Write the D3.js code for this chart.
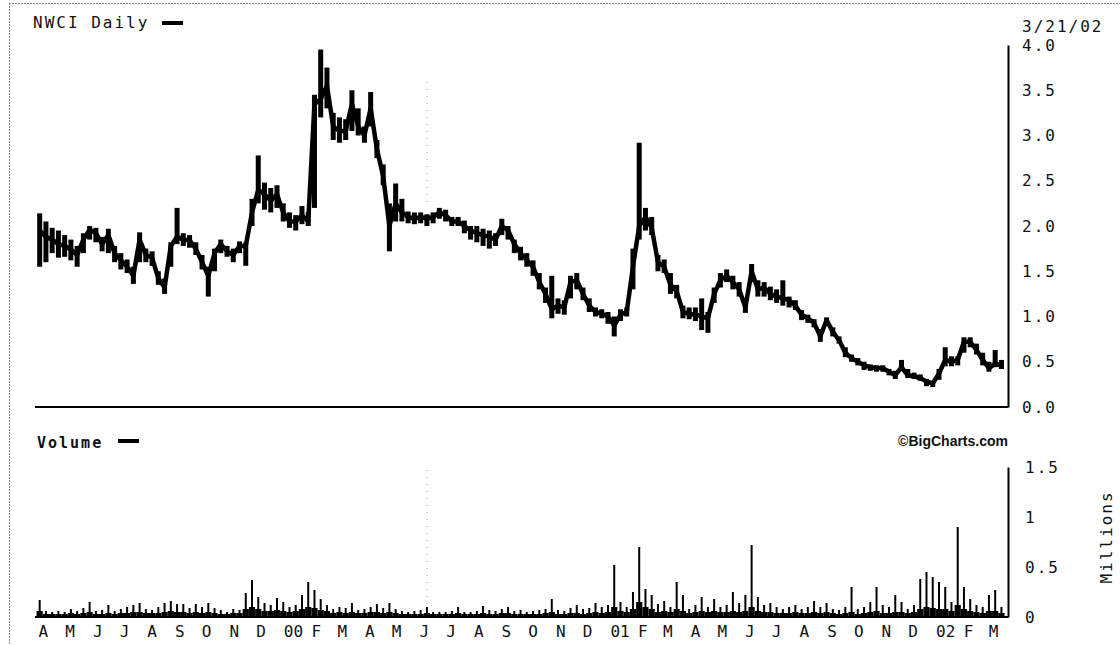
<!DOCTYPE html>
<html>
<head>
<meta charset="utf-8">
<script src="https://cdn.jsdelivr.net/npm/d3@7"></script>
<style>
body { margin: 0; background: #fff; }
svg text { font-family: "DejaVu Sans Mono", monospace; fill: #111; }
</style>
</head>
<body>
<script>
// weekly bars, first week starting on this date
const firstWeek = "1999-04-01";
const lastDay = "2002-03-21";

const closes = [1.95,1.88,1.85,1.80,1.78,1.74,1.68,1.85,1.96,1.92,
  1.80,1.90,1.70,1.62,1.55,1.45,1.85,1.68,1.65,1.42,
  1.32,1.78,1.88,1.85,1.84,1.75,1.60,1.45,1.70,1.80,
  1.72,1.68,1.78,1.78,2.15,2.40,2.35,2.28,2.35,2.15,
  2.05,2.05,2.12,2.05,3.35,3.40,3.55,3.10,3.05,3.05,
  3.35,3.10,3.00,3.30,2.85,2.55,2.00,2.25,2.15,2.10,
  2.08,2.10,2.08,2.10,2.15,2.12,2.05,2.05,2.00,1.95,
  1.92,1.90,1.88,1.85,2.00,1.95,1.80,1.70,1.62,1.55,
  1.38,1.25,1.08,1.12,1.10,1.38,1.40,1.25,1.12,1.05,
  1.03,1.00,0.90,1.02,1.05,1.55,2.00,2.10,1.98,1.60,
  1.55,1.35,1.28,1.05,1.03,1.02,1.00,0.98,1.25,1.40,
  1.45,1.38,1.30,1.10,1.50,1.30,1.32,1.25,1.22,1.20,
  1.18,1.12,1.02,0.98,0.93,0.78,0.96,0.83,0.74,0.60,
  0.54,0.50,0.46,0.44,0.43,0.43,0.39,0.35,0.44,0.35,
  0.34,0.32,0.28,0.26,0.37,0.52,0.50,0.52,0.72,0.72,
  0.63,0.52,0.43,0.48,0.46];

const highs = [2.14,2.05,1.98,1.95,1.90,1.85,1.78,1.92,2.00,1.98,
  1.88,1.97,1.78,1.70,1.63,1.55,1.93,1.75,1.72,1.50,
  1.42,1.82,2.20,1.92,1.90,1.82,1.68,1.55,1.75,1.85,
  1.78,1.75,1.83,1.82,2.30,2.78,2.48,2.42,2.45,2.25,
  2.15,2.12,2.22,2.15,3.45,3.95,3.75,3.25,3.20,3.18,
  3.50,3.30,3.10,3.48,2.95,2.68,2.25,2.47,2.30,2.16,
  2.15,2.15,2.13,2.15,2.20,2.18,2.10,2.10,2.06,2.00,
  2.00,1.97,1.95,1.92,2.08,2.00,1.85,1.77,1.70,1.62,
  1.48,1.32,1.45,1.20,1.18,1.45,1.48,1.32,1.20,1.10,
  1.08,1.05,1.00,1.08,1.10,1.75,2.92,2.20,2.10,1.68,
  1.63,1.48,1.35,1.12,1.10,1.10,1.20,1.05,1.32,1.48,
  1.52,1.45,1.38,1.15,1.58,1.40,1.38,1.33,1.30,1.40,
  1.22,1.18,1.07,1.02,0.97,0.86,0.99,0.88,0.78,0.66,
  0.58,0.54,0.50,0.47,0.46,0.46,0.42,0.40,0.52,0.42,
  0.38,0.36,0.31,0.29,0.42,0.66,0.56,0.56,0.77,0.77,
  0.70,0.60,0.50,0.63,0.52];

const lows = [1.55,1.60,1.70,1.65,1.66,1.62,1.55,1.70,1.85,1.82,
  1.72,1.70,1.60,1.52,1.48,1.36,1.60,1.60,1.56,1.35,
  1.25,1.55,1.80,1.78,1.76,1.68,1.52,1.22,1.50,1.70,
  1.66,1.60,1.70,1.56,2.00,2.25,2.18,2.15,2.20,2.05,
  1.98,1.95,2.02,2.00,2.20,3.20,3.30,2.95,2.92,2.95,
  3.05,3.00,2.92,3.10,2.75,2.45,1.72,2.05,2.05,2.03,
  2.02,2.03,2.00,2.03,2.08,2.05,2.00,2.00,1.92,1.85,
  1.82,1.78,1.75,1.78,1.90,1.85,1.70,1.62,1.55,1.45,
  1.30,1.15,0.98,1.03,1.02,1.20,1.30,1.18,1.05,1.00,
  0.98,0.92,0.78,0.95,1.00,1.30,1.85,1.95,1.90,1.50,
  1.48,1.25,1.20,0.98,0.97,0.95,0.85,0.82,1.15,1.32,
  1.38,1.30,1.22,1.04,1.38,1.22,1.22,1.18,1.15,1.12,
  1.10,1.07,0.96,0.93,0.88,0.72,0.90,0.78,0.70,0.55,
  0.50,0.46,0.41,0.40,0.39,0.39,0.35,0.31,0.40,0.32,
  0.31,0.29,0.23,0.22,0.30,0.45,0.45,0.46,0.60,0.66,
  0.58,0.46,0.39,0.44,0.42];

// volume in millions: biggest day of the week, and the usual level
const volPeak = [0.17,0.06,0.05,0.06,0.05,0.08,0.06,0.09,0.15,0.06,
  0.07,0.12,0.06,0.08,0.10,0.12,0.14,0.08,0.07,0.10,
  0.14,0.16,0.13,0.13,0.09,0.13,0.10,0.14,0.09,0.07,
  0.05,0.08,0.07,0.24,0.37,0.20,0.14,0.12,0.19,0.15,
  0.10,0.12,0.22,0.35,0.27,0.18,0.12,0.08,0.10,0.09,
  0.14,0.07,0.08,0.10,0.13,0.09,0.14,0.08,0.06,0.05,
  0.06,0.07,0.10,0.05,0.05,0.05,0.06,0.10,0.05,0.05,
  0.06,0.11,0.07,0.06,0.08,0.10,0.06,0.07,0.05,0.06,
  0.07,0.08,0.18,0.07,0.06,0.09,0.12,0.08,0.09,0.14,
  0.10,0.12,0.52,0.15,0.10,0.25,0.70,0.28,0.22,0.13,
  0.16,0.10,0.35,0.22,0.08,0.12,0.20,0.10,0.18,0.10,
  0.12,0.25,0.14,0.22,0.72,0.20,0.12,0.14,0.10,0.08,
  0.10,0.12,0.08,0.10,0.16,0.10,0.14,0.08,0.07,0.10,
  0.30,0.08,0.10,0.15,0.30,0.12,0.10,0.22,0.15,0.08,
  0.12,0.38,0.45,0.40,0.35,0.30,0.15,0.90,0.30,0.18,
  0.12,0.10,0.22,0.27,0.10];

const volBase = [0.06,0.03,0.03,0.03,0.03,0.04,0.03,0.04,0.05,0.03,
  0.03,0.04,0.03,0.04,0.04,0.05,0.05,0.04,0.04,0.04,
  0.05,0.06,0.05,0.05,0.04,0.05,0.04,0.05,0.04,0.03,
  0.03,0.04,0.04,0.08,0.10,0.08,0.06,0.06,0.07,0.06,
  0.05,0.06,0.08,0.10,0.09,0.07,0.06,0.04,0.05,0.04,
  0.05,0.04,0.04,0.05,0.05,0.04,0.05,0.04,0.03,0.03,
  0.03,0.03,0.04,0.03,0.03,0.03,0.03,0.04,0.03,0.03,
  0.03,0.04,0.03,0.03,0.04,0.04,0.03,0.03,0.03,0.03,
  0.03,0.04,0.05,0.03,0.03,0.04,0.04,0.03,0.04,0.05,
  0.04,0.05,0.10,0.06,0.05,0.08,0.15,0.10,0.08,0.05,
  0.06,0.05,0.08,0.06,0.04,0.05,0.06,0.05,0.06,0.05,
  0.05,0.06,0.05,0.06,0.10,0.06,0.05,0.05,0.04,0.04,
  0.04,0.05,0.04,0.04,0.05,0.04,0.05,0.04,0.03,0.04,
  0.05,0.03,0.04,0.05,0.06,0.04,0.04,0.05,0.05,0.04,
  0.05,0.08,0.10,0.09,0.08,0.08,0.06,0.12,0.08,0.06,
  0.05,0.04,0.06,0.06,0.04];

const monthLabels = ["A","M","J","J","A","S","O","N","D","00","F","M",
  "A","M","J","J","A","S","O","N","D","01","F","M",
  "A","M","J","J","A","S","O","N","D","02","F","M"];
const priceTicks = [0, 0.5, 1, 1.5, 2, 2.5, 3, 3.5, 4];
const volTicks = [0, 0.5, 1, 1.5];

const width = 1120, height = 645;
const svg = d3.select("body").append("svg")
    .attr("width", width)
    .attr("height", height);

const parse = d3.timeParse("%Y-%m-%d");
const start = parse(firstWeek);
const weeks = closes.map((c, i) => ({
    date: d3.timeDay.offset(start, 7 * i + 3),
    c: c, h: highs[i], l: lows[i],
    vp: volPeak[i], vb: volBase[i]
}));

//scales
const x = d3.scaleTime().domain([start, parse(lastDay)]).range([37, 1005]);
const y = d3.scaleLinear().domain([0, 4]).range([407, 45]);
const yv = d3.scaleLinear().domain([0, 1.5]).range([617, 467]);

//frame
svg.append("line").attr("x1", 9).attr("x2", width).attr("y1", 3.5).attr("y2", 3.5)
    .attr("stroke", "#888").attr("stroke-dasharray", "2,1");
svg.append("line").attr("x1", 9.5).attr("x2", 9.5).attr("y1", 3).attr("y2", height)
    .attr("stroke", "#888").attr("stroke-dasharray", "2,1");

//faint dotted marker
svg.append("line").attr("x1", 427).attr("x2", 427).attr("y1", 82).attr("y2", 205)
    .attr("stroke", "#999").attr("stroke-dasharray", "1,6");
svg.append("line").attr("x1", 427).attr("x2", 427).attr("y1", 470).attr("y2", 605)
    .attr("stroke", "#999").attr("stroke-dasharray", "1,6");

//price bars
svg.append("g").selectAll("rect")
    .data(weeks)
    .enter()
    .append("rect")
    .attr("x", d => x(d.date) - 2.5)
    .attr("y", d => y(d.h))
    .attr("width", 5)
    .attr("height", d => y(d.l) - y(d.h))
    .attr("fill", "#000");

svg.append("path")
    .datum(weeks)
    .attr("fill", "none")
    .attr("stroke", "#000")
    .attr("stroke-width", 4.5)
    .attr("stroke-linejoin", "round")
    .attr("d", d3.line().x(d => x(d.date)).y(d => y(d.c)));

svg.append("line").attr("x1", 35).attr("x2", 1008).attr("y1", y(0)).attr("y2", y(0))
    .attr("stroke", "#000").attr("stroke-width", 2);

//price axis
const yAxis = svg.append("g")
    .attr("transform", "translate(1008,0)")
    .call(d3.axisRight(y).tickValues(priceTicks).tickFormat(d3.format(".1f"))
        .tickSize(0).tickPadding(14));
yAxis.select(".domain").attr("stroke-width", 2);
yAxis.selectAll("text").attr("font-size", 16).attr("letter-spacing", 2)
    .attr("font-family", "DejaVu Sans Mono");

//volume
svg.append("g").selectAll("rect")
    .data(weeks)
    .enter()
    .append("rect")
    .attr("x", d => x(d.date) - 3.1)
    .attr("y", d => yv(d.vb))
    .attr("width", 6.2)
    .attr("height", d => yv(0) - yv(d.vb))
    .attr("fill", "#000");

svg.append("g").selectAll("line")
    .data(weeks)
    .enter()
    .append("line")
    .attr("x1", d => x(d.date))
    .attr("x2", d => x(d.date))
    .attr("y1", yv(0))
    .attr("y2", d => yv(d.vp))
    .attr("stroke", "#000")
    .attr("stroke-width", 2);

svg.append("line").attr("x1", 35).attr("x2", 1008).attr("y1", yv(0)).attr("y2", yv(0))
    .attr("stroke", "#000").attr("stroke-width", 2);

const vAxis = svg.append("g")
    .attr("transform", "translate(1008,0)")
    .call(d3.axisRight(yv).tickValues(volTicks).tickFormat(d => d)
        .tickSize(0).tickPadding(17));
vAxis.select(".domain").attr("stroke-width", 2);
vAxis.selectAll("text").attr("font-size", 16).attr("letter-spacing", 2)
    .attr("font-family", "DejaVu Sans Mono");

//month axis
const months = d3.timeMonth.range(start, parse(lastDay));
const xAxis = svg.append("g")
    .attr("transform", "translate(0,617)")
    .call(d3.axisBottom(x).tickValues(months).tickFormat((d, i) => monthLabels[i])
        .tickSize(0).tickPadding(9));
xAxis.select(".domain").remove();
xAxis.selectAll("text").attr("font-size", 16).attr("text-anchor", "start")
    .attr("dx", 1).attr("font-family", "DejaVu Sans Mono");

//titles
svg.append("text").attr("x", 33).attr("y", 28).attr("font-size", 16)
    .attr("letter-spacing", 2).text("NWCI Daily");
svg.append("rect").attr("x", 162).attr("y", 21).attr("width", 21).attr("height", 4).attr("fill", "#000");

svg.append("text").attr("x", 1022).attr("y", 32).attr("font-size", 16)
    .attr("letter-spacing", 2).text("3/21/02");

svg.append("text").attr("x", 37).attr("y", 448).attr("font-size", 15)
    .attr("font-weight", "bold").attr("letter-spacing", 2).text("Volume");
svg.append("rect").attr("x", 118).attr("y", 439).attr("width", 21).attr("height", 4).attr("fill", "#000");

svg.append("text").attr("x", 1008).attr("y", 446).attr("text-anchor", "end")
    .attr("font-size", 14).attr("font-weight", "bold")
    .style("font-family", "'Liberation Sans', Arial, sans-serif")
    .text("\u00A9BigCharts.com");

svg.append("text")
    .attr("transform", "translate(1112,537) rotate(-90)")
    .attr("text-anchor", "middle").attr("font-size", 16).attr("letter-spacing", 2)
    .text("Millions");
</script>
</body>
</html>
